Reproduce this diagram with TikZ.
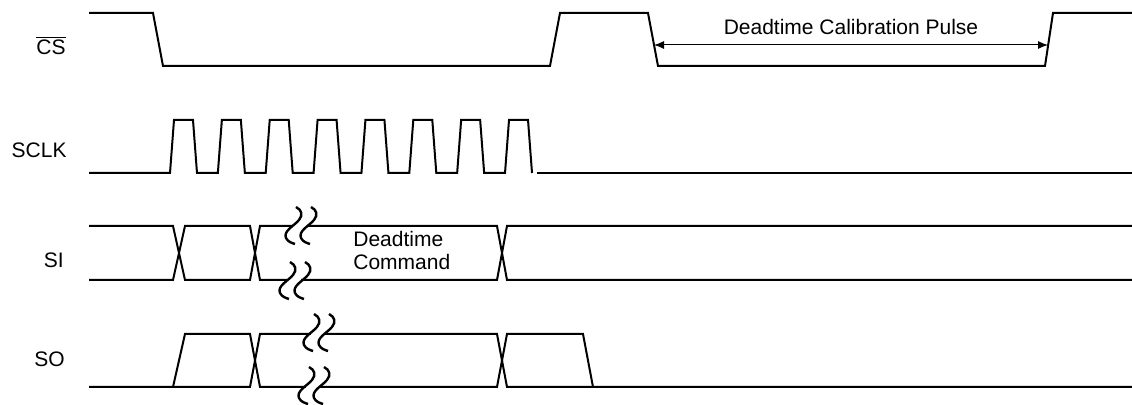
\documentclass[tikz,border=0pt]{standalone}
\usepackage{fontspec}
\setmainfont{Liberation Sans}
\usepackage{tikz}
\usetikzlibrary{arrows.meta}

\begin{document}
\begin{tikzpicture}[x=0.5pt, y=-0.5pt, >={Latex[length=5pt,width=4pt]}, every node/.style={font=\fontsize{10.5}{11.5}\selectfont, inner sep=0pt}]

    \tikzstyle{signal}=[line width=1pt]
    \tikzstyle{squiggle}=[line width=1.2pt]
    \tikzstyle{siglabel}=[anchor=base east]

    \useasboundingbox (0,0) rectangle (1132,405);

    % signal names
    \node[siglabel] (cs)   at (66,55)  {$\overline{\mbox{CS}}$};
    \node[siglabel] (sclk) at (67,158) {SCLK};
    \node[siglabel] (si)   at (64,268) {SI};
    \node[siglabel] (so)   at (65,367) {SO};

    % chip select
    \draw[signal] (89,13) -- (153,13) -- (163,66) -- (550,66) -- (560,13) -- (648,13)
                  -- (658,66) -- (1045,66) -- (1053,13) -- (1132,13);
    \coordinate (calL) at (654,45);
    \coordinate (calR) at (1048,45);
    \draw[<->, line width=0.5pt] (calL) -- (calR);
    \node[anchor=base] (calpulse) at (851,35) {Deadtime Calibration Pulse};

    % clock
    \draw[signal] (89,173) foreach \k in {0,...,7} {
        -- ({170+47.86*\k},173) -- ++(4,-53) -- ++(19,0) -- ++(4,53) };
    \draw[signal] (537,173) -- (1132,173);

    % serial in
    \draw[signal] (89,226) -- (173,226) -- (185,280) -- (250,280) -- (260,226) -- (497,226) -- (507,280) -- (1132,280);
    \draw[signal] (89,280) -- (173,280) -- (185,226) -- (250,226) -- (260,280) -- (497,280) -- (507,226) -- (1132,226);
    \node[anchor=base west, align=left] (deadcmd) at (353,270) {Deadtime\\Command};

    % serial out
    \draw[signal] (89,387) -- (173,387) -- (185,334) -- (250,334) -- (260,387) -- (497,387) -- (507,334) -- (583,334) -- (593,387) -- (1132,387);
    \draw[signal] (173,387) -- (250,387) -- (260,334) -- (497,334) -- (507,387) -- (593,387);

    % breaks
    \foreach \sx/\sy/\ly in {297/207/226, 291/262/280, 315/314/334, 310/367/387} {
        \fill[white] (\sx-4,\ly-2.5) rectangle (\sx+10,\ly+2.5);
        \foreach \d in {0,15} {
            \pgfmathsetmacro\bx{\sx+\d}
            \draw[squiggle] (\bx-1,\sy) .. controls (\bx+5,\sy+3) and (\bx+6,\sy+8) .. (\bx+2,\sy+13)
                .. controls (\bx-3,\sy+19) and (\bx-14,\sy+24) .. (\bx-11,\sy+31)
                .. controls (\bx-9,\sy+35) and (\bx-5,\sy+36) .. (\bx-2,\sy+37);
        }
    }
\end{tikzpicture}
\end{document}
